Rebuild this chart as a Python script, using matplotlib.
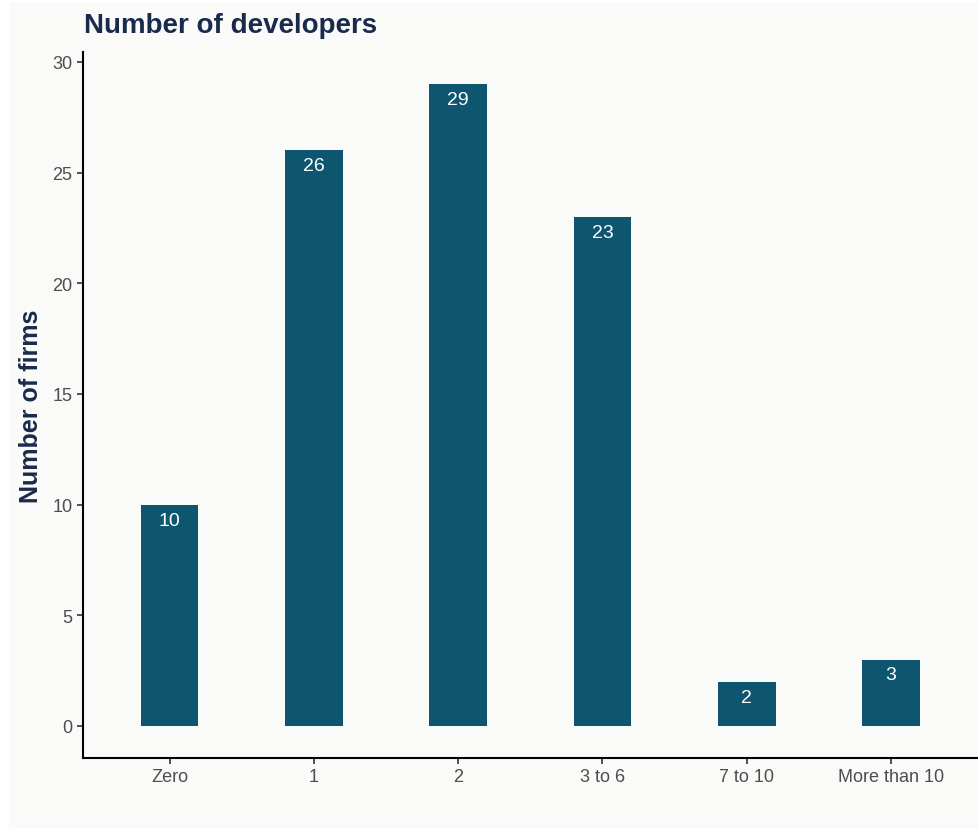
import matplotlib.pyplot as plt
from matplotlib.patches import Rectangle

plt.rcParams['font.family'] = ['Liberation Sans', 'DejaVu Sans']

categories = ['Zero', '1', '2', '3 to 6', '7 to 10', 'More than 10']
firms = [10, 26, 29, 23, 2, 3]
y_ticks = [0, 5, 10, 15, 20, 25, 30]

bar_color = '#0E5570'
bg = '#FAFAF8'
navy = '#1A2A4C'

fig = plt.figure(figsize=(9.79, 8.29), dpi=100, facecolor='white')
# panel background, slightly inset from the left/top edge
fig.patches.append(Rectangle((9 / 979, 0), 1, 1 - 3 / 829, transform=fig.transFigure,
                             facecolor=bg, edgecolor='none', zorder=-5))

ax_w = (977.5 - 83) / 979
ax = fig.add_axes([83 / 979, 70 / 829, ax_w, (759 - 53) / 829])
ax.set_facecolor(bg)

x = list(range(1, len(categories) + 1))
bars = ax.bar(x, firms, width=0.4, color=bar_color, zorder=2)

for xi, v in zip(x, firms):
    ax.annotate(str(v), (xi, v), xytext=(0, -5), textcoords='offset points',
                ha='center', va='top', color='white', fontsize=14)

ax.set_xlim(0.4, 6.6)
ax.set_ylim(-1.45, 30.45)
ax.set_xticks(x)
ax.set_xticklabels(categories)
ax.set_yticks(y_ticks)
ax.tick_params(axis='both', colors='#333333', labelcolor='#4D4D4D', labelsize=13,
               length=4, width=1.2)

for side in ['top', 'right']:
    ax.spines[side].set_visible(False)
for side in ['left', 'bottom']:
    ax.spines[side].set_linewidth(1.5)
    ax.spines[side].set_color('black')

ax.set_ylabel('Number of firms', fontsize=18, fontweight='bold', color=navy)
ax.yaxis.set_label_coords(-40 / 979 / ax_w, 0.5)
fig.text(84 / 979, 1 - 26 / 829, 'Number of developers', fontsize=20, fontweight='bold',
         color=navy, ha='left', va='center')

fig.savefig('out.png', dpi=100, facecolor=fig.get_facecolor())
